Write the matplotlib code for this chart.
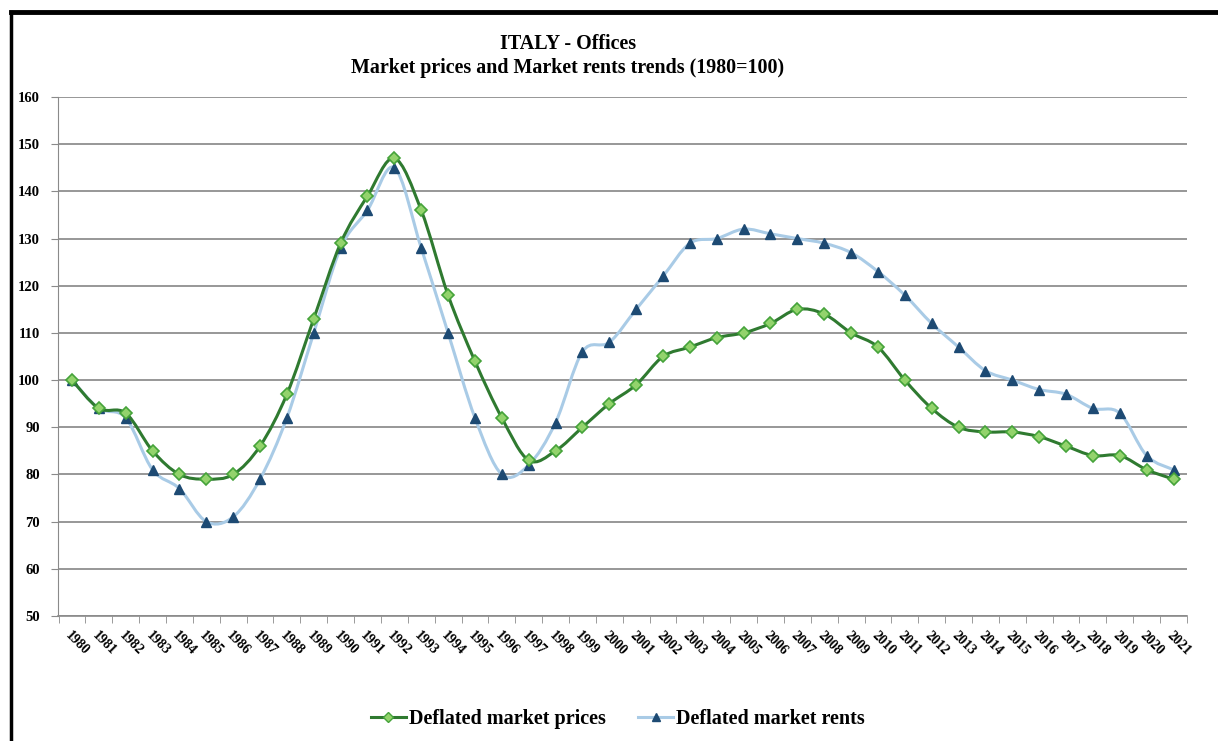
import matplotlib
matplotlib.use('Agg')
import matplotlib.pyplot as plt
import numpy as np
from matplotlib.path import Path
from matplotlib.patches import PathPatch
from matplotlib.lines import Line2D

years = [str(y) for y in range(1980, 2022)]

# deflated market prices, 1980=100
prices = [100, 94, 93, 85, 80, 79, 80, 86, 97, 113,
          129, 139, 147, 136, 118, 104, 92, 83, 85, 90,
          95, 99, 105, 107, 109, 110, 112, 115, 114, 110,
          107, 100, 94, 90, 89, 89, 88, 86, 84, 84,
          81, 79]

# deflated market rents, 1980=100
rents = [100, 94, 92, 81, 77, 70, 71, 79, 92, 110,
         128, 136, 145, 128, 110, 92, 80, 82, 91, 106,
         108, 115, 122, 129, 130, 132, 131, 130, 129, 127,
         123, 118, 112, 107, 102, 100, 98, 97, 94, 93,
         84, 81]

price_line = '#2f7a30'
price_face = '#93d36c'
price_edge = '#45a33a'
rent_line = '#a9cbe6'
rent_mark = '#1d4a73'

plt.rcParams['font.family'] = ['Liberation Serif', 'DejaVu Serif']
plt.rcParams['font.weight'] = 'bold'


def smooth_path(xs, ys):
    # excel style smoothed line: cubic bezier segments through every point
    pts = np.column_stack([xs, ys]).astype(float)
    n = len(pts)
    verts = [pts[0]]
    codes = [Path.MOVETO]
    for i in range(n - 1):
        p0 = pts[i - 1] if i > 0 else pts[i]
        p1 = pts[i]
        p2 = pts[i + 1]
        p3 = pts[i + 2] if i + 2 < n else pts[i + 1]
        c1 = p1 + (p2 - p0) / 6.0
        c2 = p2 - (p3 - p1) / 6.0
        verts += [c1, c2, p2]
        codes += [Path.CURVE4] * 3
    return Path(verts, codes)


fig = plt.figure(figsize=(12.18, 7.41), dpi=100)
ax = fig.add_axes([0.0476, 0.1687, 0.9269, 0.7004])

x = np.arange(len(years))

ax.add_patch(PathPatch(smooth_path(x, rents), facecolor='none',
                       edgecolor=rent_line, lw=2.2, zorder=3))
ax.plot(x, rents, ls='none', marker='^', ms=7, mfc=rent_mark,
        mec=rent_mark, zorder=4)

ax.add_patch(PathPatch(smooth_path(x, prices), facecolor='none',
                       edgecolor=price_line, lw=2.2, zorder=5))
ax.plot(x, prices, ls='none', marker='D', ms=6, mfc=price_face,
        mec=price_edge, mew=1.2, zorder=6)

ax.set_xlim(-0.52, len(years) - 1 + 0.37)
ax.set_ylim(50, 160)
ax.set_yticks(range(50, 161, 10))
ax.set_xticks(x)
ax.set_xticklabels(years, rotation=-45, ha='left', va='top',
                   rotation_mode='anchor', fontsize=10, fontweight='bold')
# tick marks sit between the categories
ax.set_xticks(np.arange(-0.5, len(years), 1.0), minor=True)
for lbl in ax.get_yticklabels():
    lbl.set_fontsize(10.5)
    lbl.set_fontweight('bold')

ax.yaxis.grid(True, color='#7a7a7a', lw=1.1)
ax.set_axisbelow(True)
for side in ['top', 'right']:
    ax.spines[side].set_visible(False)
ax.spines['left'].set_color('#8a8a8a')
ax.spines['bottom'].set_color('#8a8a8a')
ax.spines['bottom'].set_linewidth(1.2)
ax.tick_params(axis='y', length=5, color='#8a8a8a', pad=8)
ax.tick_params(axis='x', which='major', length=0, pad=9)
ax.tick_params(axis='x', which='minor', length=5, color='#8a8a8a')

fig.text(568 / 1218, 1 - 44 / 741, 'ITALY - Offices', ha='center',
         va='center', fontsize=14.4, fontweight='bold')
fig.text(568 / 1218, 1 - 68 / 741,
         'Market prices and Market rents trends (1980=100)',
         ha='center', va='center', fontsize=14.4, fontweight='bold')

handles = [
    Line2D([], [], color=price_line, lw=2.2, marker='D', ms=5,
           mfc=price_face, mec=price_edge),
    Line2D([], [], color=rent_line, lw=2.2, marker='^', ms=6,
           mfc=rent_mark, mec=rent_mark),
]
fig.legend(handles, ['Deflated market prices', 'Deflated market rents'],
           loc='center', bbox_to_anchor=(618 / 1218, 1 - 719 / 741),
           ncol=2, frameon=False, handlelength=1.75, handletextpad=0.15,
           columnspacing=1.6, prop={'weight': 'bold', 'size': 14.5})

# frame edges of the chart area
fig.add_artist(Line2D([11 / 1218, 1], [1 - 12 / 741, 1 - 12 / 741],
                      transform=fig.transFigure, color='black', lw=3.5))
fig.add_artist(Line2D([11 / 1218, 11 / 1218], [0, 1 - 12 / 741],
                      transform=fig.transFigure, color='black', lw=2.5))

fig.savefig('out.png', dpi=100)
plt.close(fig)
